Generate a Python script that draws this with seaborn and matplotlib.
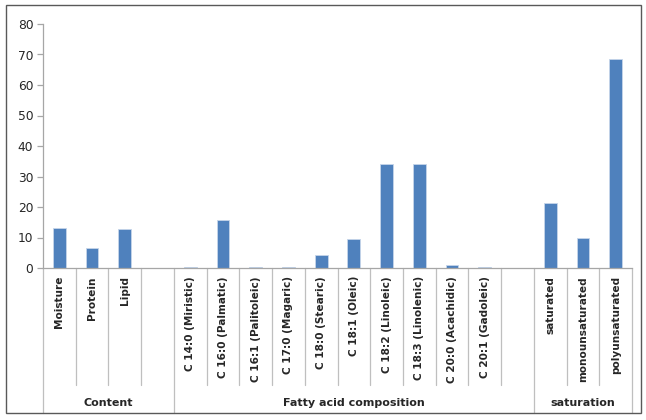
import matplotlib
matplotlib.use("Agg")
import matplotlib.pyplot as plt
import matplotlib.transforms as mtransforms
from matplotlib.patches import Rectangle
from matplotlib.lines import Line2D
import seaborn as sns
import pandas as pd
import numpy as np

sns.set_theme(style="white")
plt.rcParams['font.family'] = ['DejaVu Sans']

categories = ["Moisture", "Protein", "Lipid", "",
              "C 14:0 (Miristic)", "C 16:0 (Palmatic)", "C 16:1 (Palitoleic)",
              "C 17:0 (Magaric)", "C 18:0 (Stearic)", "C 18:1 (Oleic)",
              "C 18:2 (Linoleic)", "C 18:3 (Linolenic)", "C 20:0 (Acachidic)",
              "C 20:1 (Gadoleic)", "",
              "saturated", "monounsaturated", "polyunsaturated"]
values = [13.2, 6.5, 12.7, np.nan,
          0.3, 15.7, 0.3, 0.3, 4.3, 9.6, 34.2, 34.2, 0.9, 0.4, np.nan,
          21.4, 9.9, 68.6]
groups = ["Content", "Fatty acid composition", "saturation"]
group_spans = [(0, 4), (4, 15), (15, 18)]  # slot index ranges [start, end)

keys = [f"k{i}" for i in range(len(categories))]
df = pd.DataFrame({"key": keys, "value": values})

W, H = 646, 420
fig = plt.figure(figsize=(W / 100, H / 100), dpi=100)
fig.patch.set_facecolor("white")

def fx(px):
    return px / W

def fy(py):
    return (H - py) / H

ax_left, ax_right, ax_top, ax_bot = 43, 632, 24, 268
ax = fig.add_axes([fx(ax_left), fy(ax_bot), fx(ax_right - ax_left), (ax_bot - ax_top) / H])

sns.barplot(data=df.dropna(), x="key", y="value", order=keys, color="#4F81BD",
            width=0.39, ax=ax, saturation=1, edgecolor="#C6D5EA", linewidth=0.6)

ax.set_xlim(-0.5, len(categories) - 0.5)
ax.set_ylim(0, 80)
ax.set_yticks(range(0, 81, 10))
ax.set_xticks([])
ax.set_xlabel("")
ax.set_ylabel("")
for s in ["top", "right"]:
    ax.spines[s].set_visible(False)
for s in ["left", "bottom"]:
    ax.spines[s].set_color("#A6A6A6")
    ax.spines[s].set_linewidth(0.9)
ax.tick_params(axis="y", which="both", left=True, length=4, width=0.9,
               color="#A6A6A6", labelsize=8.8, labelcolor="#262626", pad=3)
ax.grid(False)

trans = mtransforms.blended_transform_factory(ax.transData, fig.transFigure)
sep_color = "#BFBFBF"

# category labels
for i, lab in enumerate(categories):
    if lab:
        ax.text(i, fy(276), lab, rotation=90, ha="center", va="top",
                fontsize=7.6, fontweight="bold", color="#262626",
                transform=trans, clip_on=False)

# inner separators
group_bounds = set()
for s, e in group_spans:
    group_bounds.add(s)
    group_bounds.add(e)
for b in range(len(categories) + 1):
    x = b - 0.5
    y_end = fy(413) if b in group_bounds else fy(385)
    ax.add_line(Line2D([x, x], [fy(268), y_end], transform=trans,
                       color=sep_color, linewidth=0.9, clip_on=False))

# group labels
for g, (s, e) in zip(groups, group_spans):
    ax.text((s + e - 1) / 2, fy(403), g, ha="center", va="center",
            fontsize=8, fontweight="bold", color="#262626",
            transform=trans, clip_on=False)

# outer frame
fig.patches.append(Rectangle((fx(6), fy(413)), fx(641 - 6), (413 - 5) / H,
                             transform=fig.transFigure, fill=False,
                             edgecolor="#595959", linewidth=1.0))

fig.savefig("out.png", dpi=100)
